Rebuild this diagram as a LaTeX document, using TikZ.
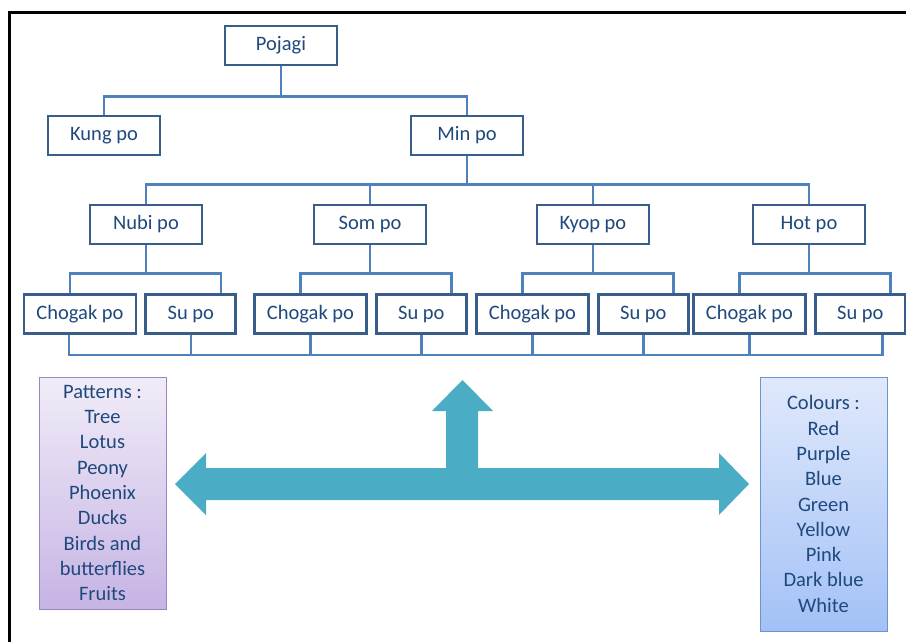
\documentclass[tikz,border=0pt]{standalone}
\usepackage{fontspec}
\setmainfont{Carlito}
\usepackage{xcolor}
\usepackage{tikz}
\usetikzlibrary{positioning}

\definecolor{boxline}{HTML}{385D8A}
\definecolor{linkblue}{HTML}{4F81BD}
\definecolor{txtblue}{HTML}{1F497D}
\definecolor{arrowteal}{HTML}{4BACC6}
\definecolor{lilactop}{HTML}{F1ECF8}
\definecolor{lilacbot}{HTML}{C6B4E4}
\definecolor{lilacline}{HTML}{9A84C4}
\definecolor{skytop}{HTML}{E0E9FB}
\definecolor{skybot}{HTML}{A3C1F7}
\definecolor{skyline}{HTML}{6C93D2}

\begin{document}
\begin{tikzpicture}[
    x=1pt, y=-1pt,
    font=\fontsize{20.5}{25.3}\selectfont,
    box/.style={rectangle, draw=boxline, fill=white, line width=2.8pt, text=txtblue, minimum width=112pt, minimum height=39pt, inner sep=0pt},
    link/.style={draw=linkblue, line width=2.6pt},
    listbox/.style={rectangle, text=txtblue, align=center, minimum width=127pt, line width=0.8pt, inner sep=0pt}
]
\useasboundingbox (0,0) rectangle (906,641);
\draw[line width=3pt] (9.5,660) -- (9.5,12) -- (920,12);

% tree
\node[box] (pojagi) at (281,45.5) {Pojagi};
\node[box] (kung) at (104,135.5) {Kung po};
\node[box] (minpo) at (467,135.5) {Min po};

\node[box] (nubi) at (146,224.5) {Nubi po};
\node[box] (som) at (370,224.5) {Som po};
\node[box] (kyop) at (593,224.5) {Kyop po};
\node[box] (hot) at (809,224.5) {Hot po};

\node[box] (chogak1) at (80,314) {Chogak po};
\node[box, right=7pt of chogak1, minimum width=90pt] (su1) {Su po};
\node[box] (chogak2) at (310.5,314) {Chogak po};
\node[box, right=7pt of chogak2, minimum width=90pt] (su2) {Su po};
\node[box] (chogak3) at (532.5,314) {Chogak po};
\node[box, right=7pt of chogak3, minimum width=90pt] (su3) {Su po};
\node[box] (chogak4) at (749.5,314) {Chogak po};
\node[box, right=7pt of chogak4, minimum width=90pt] (su4) {Su po};

\draw[link] (pojagi.south) -- ++(0,30) -| (kung.north);
\draw[link] (pojagi.south) ++(0,30) -| (minpo.north);

\draw[link] (minpo.south) -- ++(0,28) coordinate (bus2);
\foreach \n in {nubi,som,kyop,hot}
    \draw[link] (bus2) -| (\n.north);

\foreach \p/\c/\s in {nubi/chogak1/su1, som/chogak2/su2, kyop/chogak3/su3, hot/chogak4/su4} {
    \draw[link] (\p.south) -- ++(0,28) -| ([xshift=-10pt]\c.north);
    \draw[link] (\p.south) ++(0,28) -| ([xshift=30pt]\s.north);
}

\draw[link] ([xshift=-11pt]chogak1.south) -- ++(0,20) coordinate (bus4) -| ([xshift=22pt]su4.south);
\foreach \n in {su1,chogak2,su2,chogak3,su3,chogak4}
    \draw[link] (\n.south) -- (\n.south |- bus4);

% lists
\node[listbox, draw=lilacline, top color=lilactop, bottom color=lilacbot, minimum height=232pt] (patterns) at (102.5,493)
    {Patterns :\\Tree\\Lotus\\Peony\\Phoenix\\Ducks\\Birds and\\butterflies\\Fruits};
\node[listbox, draw=skyline, top color=skytop, bottom color=skybot, minimum height=254pt] (colours) at (823.5,504)
    {Colours :\\Red\\Purple\\Blue\\Green\\Yellow\\Pink\\Dark blue\\White};

% three-way arrow
\fill[arrowteal] (175,484) -- (206,453) -- (206,468) -- (446,468) -- (446,411) -- (432,411)
    -- (462.5,380) -- (493,411) -- (478,411) -- (478,468) -- (719,468) -- (719,453)
    -- (749,484) -- (719,515) -- (719,500) -- (206,500) -- (206,515) -- cycle;

\end{tikzpicture}
\end{document}
